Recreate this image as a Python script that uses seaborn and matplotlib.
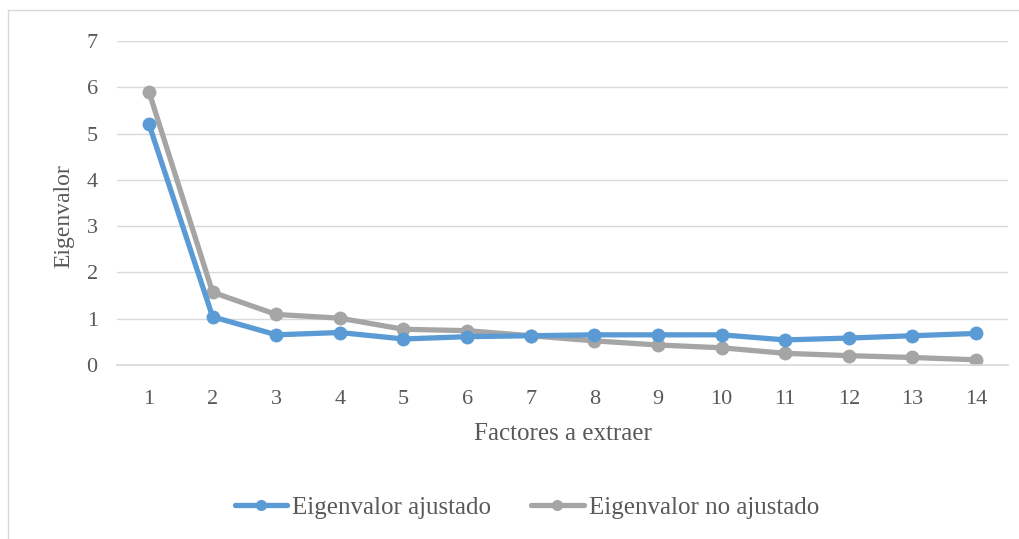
import numpy as np
import pandas as pd
import seaborn as sns
import matplotlib.pyplot as plt
from matplotlib.lines import Line2D

factores = list(range(1, 15))
ajustado = [5.20, 1.04, 0.65, 0.70, 0.56, 0.61, 0.63, 0.65, 0.65, 0.65, 0.54, 0.58, 0.63, 0.68]
no_ajustado = [5.90, 1.57, 1.09, 1.01, 0.77, 0.74, 0.63, 0.52, 0.43, 0.37, 0.25, 0.20, 0.16, 0.11]

df = pd.DataFrame({
    "factor": factores * 2,
    "valor": ajustado + no_ajustado,
    "serie": ["Eigenvalor ajustado"] * 14 + ["Eigenvalor no ajustado"] * 14,
})

sns.set_theme(style="white")
plt.rcParams["font.family"] = ["Liberation Serif", "DejaVu Serif"]

fig = plt.figure(figsize=(10.19, 5.39), dpi=100)
ax = fig.add_axes([0.115, 0.323, 0.874, 0.601])

colores = {"Eigenvalor ajustado": "#5b9bd5", "Eigenvalor no ajustado": "#a5a5a5"}
sns.lineplot(data=df, x="factor", y="valor", hue="serie", palette=colores,
             hue_order=["Eigenvalor no ajustado", "Eigenvalor ajustado"],
             marker="o", markersize=10, markeredgewidth=0, linewidth=3.8,
             legend=False, ax=ax)

ax.set_xlim(0.5, 14.5)
ax.set_ylim(0, 7)
ax.set_xticks(factores)
ax.set_yticks(range(0, 8))
ax.yaxis.grid(True, color="#d9d9d9", linewidth=1)
ax.set_axisbelow(True)
for s in ["top", "right", "left"]:
    ax.spines[s].set_visible(False)
ax.spines["bottom"].set_color("#d9d9d9")
ax.tick_params(axis="both", labelsize=16, colors="#595959", length=0)
ax.tick_params(axis="x", pad=18)
ax.tick_params(axis="y", pad=14)
ax.set_xlabel("Factores a extraer", fontsize=18, color="#595959", labelpad=10)
ax.set_ylabel("Eigenvalor", fontsize=17, color="#595959")
ax.yaxis.set_label_coords(-0.048, 0.46)

handles = [Line2D([0], [0], color=colores[k], marker="o", markersize=8, linewidth=3.8,
                  markeredgewidth=0) for k in ["Eigenvalor ajustado", "Eigenvalor no ajustado"]]
fig.legend(handles, ["Eigenvalor ajustado", "Eigenvalor no ajustado"],
           loc="center", bbox_to_anchor=(0.517, 0.058), ncol=2, frameon=False,
           fontsize=18, labelcolor="#595959", handlelength=2.1, handletextpad=0.2,
           columnspacing=1.6)

fig.add_artist(Line2D([0.008, 0.008], [0.0, 0.982], color="#d9d9d9", linewidth=1, transform=fig.transFigure))
fig.add_artist(Line2D([0.008, 1.0], [0.982, 0.982], color="#d9d9d9", linewidth=1, transform=fig.transFigure))

fig.savefig("out.png", dpi=100)
